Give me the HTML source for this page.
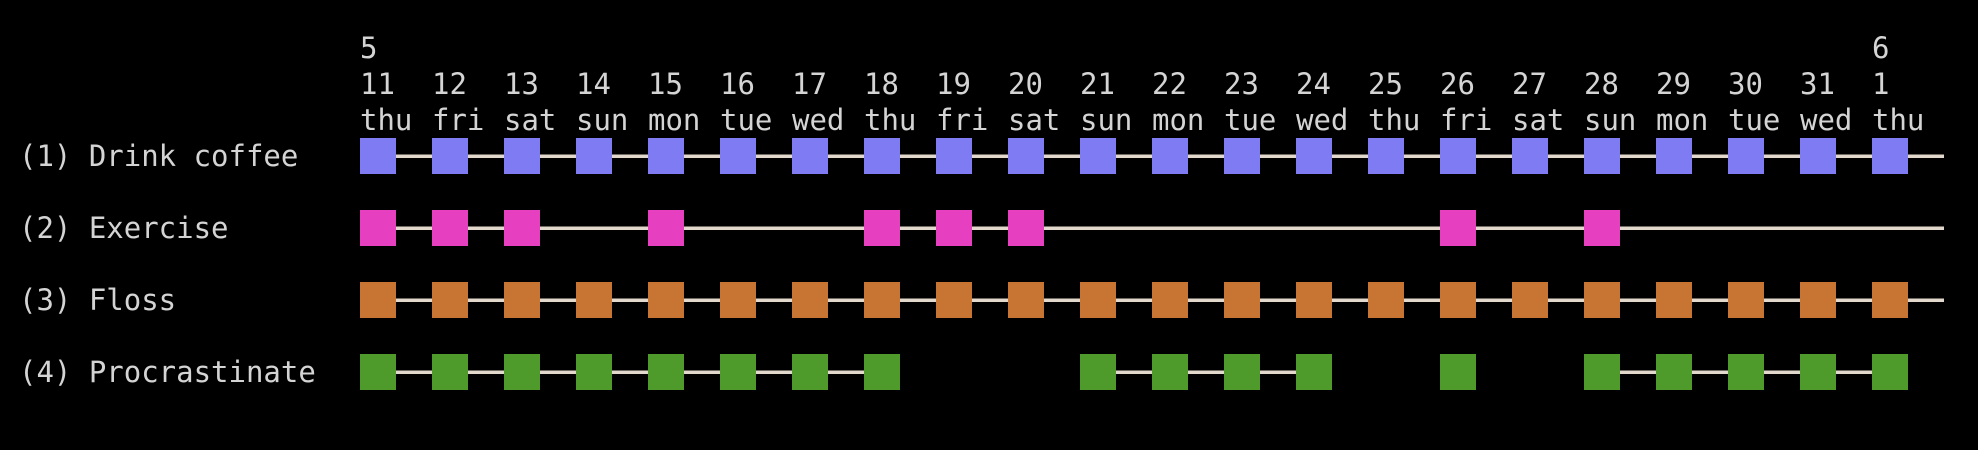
<!DOCTYPE html>
<html><head><meta charset="utf-8"><style>
html,body{margin:0;padding:0;background:#000;}
svg{display:block}
text{font-family:"DejaVu Sans Mono","Liberation Mono",monospace;font-size:29px;fill:#d4d4d4;}
</style></head><body>
<svg width="1978" height="450" xmlns="http://www.w3.org/2000/svg">
<rect width="1978" height="450" fill="#000"/>
<g id="hdr"></g>
<script>
(function(){
var ns="http://www.w3.org/2000/svg",s=document.querySelector('svg');
function el(n,a,t){var e=document.createElementNS(ns,n);for(var k in a)e.setAttribute(k,a[k]);if(t!=null)e.textContent=t;s.appendChild(e);return e;}
var x0=360,p=72,sz=36;
var days=["11","12","13","14","15","16","17","18","19","20","21","22","23","24","25","26","27","28","29","30","31","1"];
var wd=["thu","fri","sat","sun","mon","tue","wed"];
el('text',{x:x0,y:58},"5");el('text',{x:x0+21*p,y:58},"6");
for(var i=0;i<22;i++){el('text',{x:x0+i*p,y:94},days[i]);el('text',{x:x0+i*p,y:130},wd[i%7]);}
var rows=[
{l:"(1) Drink coffee",c:"#7f7bf2",d:[0,1,2,3,4,5,6,7,8,9,10,11,12,13,14,15,16,17,18,19,20,21],seg:[[0,-1]]},
{l:"(2) Exercise",c:"#e63fc0",d:[0,1,2,4,7,8,9,15,17],seg:[[0,-1]]},
{l:"(3) Floss",c:"#c87534",d:[0,1,2,3,4,5,6,7,8,9,10,11,12,13,14,15,16,17,18,19,20,21],seg:[[0,-1]]},
{l:"(4) Procrastinate",c:"#4e9a2a",d:[0,1,2,3,4,5,6,7,10,11,12,13,15,17,18,19,20,21],seg:[[0,7],[10,13],[17,21]]}];
rows.forEach(function(r,k){
var cy=156+k*72;
el('text',{x:19,y:cy+10},r.l);
r.seg.forEach(function(g){var xa=x0+g[0]*p+sz/2,xb=g[1]<0?1944:x0+g[1]*p+sz/2;
el('rect',{x:xa,y:cy-1.5,width:xb-xa,height:3.5,fill:"#e2d8cb"});});
r.d.forEach(function(d){el('rect',{x:x0+d*p,y:cy-18,width:sz,height:sz,fill:r.c});});
});
})();
</script>
</svg>
</body></html>
